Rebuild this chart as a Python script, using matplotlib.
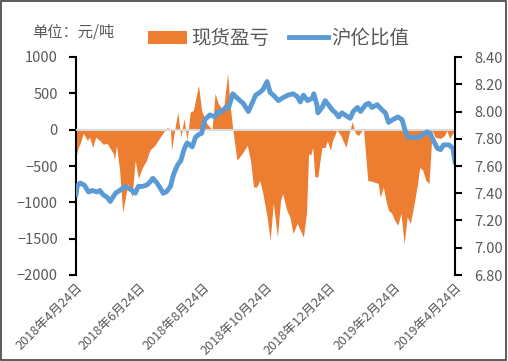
import datetime as dt

import matplotlib
matplotlib.use("Agg")
import matplotlib.pyplot as plt
from matplotlib.patches import Patch, Rectangle
from matplotlib.lines import Line2D

plt.rcParams["font.family"] = ["Noto Sans CJK SC", "DejaVu Sans"]

START = dt.date(2018, 4, 24)

# 现货盈亏 (元/吨): days since 2018-04-24, value
profit_days = [0, 2, 4, 7, 11, 13, 16, 19, 23, 26, 30, 36, 37, 39, 42, 45, 50, 54, 57, 60, 64,
               68, 71, 76, 81, 86, 88, 91, 92, 95, 98, 101, 104, 107, 110, 113, 118, 121, 126,
               131, 134, 137, 142, 146, 148, 151, 155, 160, 165, 168, 171, 174, 177, 180, 184,
               187, 190, 194, 197, 199, 203, 206, 209, 213, 216, 219, 222, 224, 226, 228, 230,
               233, 235, 237, 240, 242, 245, 247, 250, 251, 255, 260, 263, 266, 269, 272, 276,
               277, 281, 285, 291, 293, 296, 299, 301, 304, 307, 310, 313, 316, 319, 322, 325,
               329, 331, 334, 337, 340, 343, 346, 351, 355, 357, 360, 363, 365]
profit = [-380, -250, -190, -50, -150, -100, -245, -105, -150, -200, -190, -330, -420, -215,
          -560, -1140, -740, -930, -420, -670, -520, -420, -285, -215, -105, 0, 30, 0, -285, 0,
          240, -105, 150, -150, 240, 265, 610, 265, 85, 0, 500, 360, 265, 775, 400, 0, -420,
          -330, -215, -420, -790, -790, -700, -880, -1200, -1520, -1010, -1480, -970, -880,
          -1110, -1200, -1430, -1290, -1385, -1480, -1150, -330, -350, -245, -650, -650, -420,
          -245, -245, -150, -285, -150, -50, 0, -80, -245, -50, 110, -50, -80, 0, -10, -700,
          -710, -740, -930, -790, -1010, -1110, -1150, -1250, -1315, -1150, -1570, -1200,
          -1290, -1070, -740, -520, -560, -700, -740, -10, -105, -120, -80, -10, -120, -40, -105]

# 沪伦比值
ratio_days = [0, 1, 4, 8, 12, 16, 20, 23, 26, 30, 33, 38, 42, 47, 50, 54, 57, 60, 64, 68, 71,
              74, 78, 81, 84, 87, 91, 94, 98, 101, 104, 107, 112, 115, 118, 121, 124, 129, 134,
              137, 141, 144, 147, 151, 155, 158, 161, 166, 169, 173, 177, 180, 184, 187, 190,
              195, 199, 204, 209, 213, 216, 219, 223, 228, 229, 232, 233, 237, 240, 243, 247,
              250, 253, 256, 259, 264, 267, 271, 274, 279, 282, 285, 290, 295, 298, 301, 305,
              310, 314, 317, 320, 325, 330, 334, 338, 341, 344, 348, 351, 354, 359, 363, 365]
ratio = [7.39, 7.45, 7.475, 7.46, 7.41, 7.42, 7.41, 7.42, 7.39, 7.37, 7.34, 7.40, 7.42, 7.45,
         7.44, 7.42, 7.40, 7.45, 7.45, 7.46, 7.48, 7.51, 7.475, 7.44, 7.40, 7.41, 7.45, 7.54,
         7.61, 7.64, 7.72, 7.77, 7.74, 7.81, 7.83, 7.84, 7.94, 7.975, 7.96, 8.00, 8.00, 8.03,
         8.03, 8.13, 8.10, 8.08, 8.06, 8.00, 8.05, 8.12, 8.14, 8.16, 8.22, 8.14, 8.12, 8.08,
         8.10, 8.12, 8.13, 8.11, 8.07, 8.12, 8.08, 8.10, 8.13, 8.05, 7.99, 8.03, 8.08, 8.05,
         8.01, 7.99, 7.96, 7.99, 7.975, 7.95, 8.00, 8.03, 8.00, 8.05, 8.06, 8.03, 8.05, 8.01,
         7.99, 7.92, 7.94, 7.96, 7.94, 7.86, 7.81, 7.81, 7.81, 7.83, 7.85, 7.84, 7.79, 7.73,
         7.72, 7.755, 7.755, 7.73, 7.63]

tick_dates = [dt.date(2018, 4, 24), dt.date(2018, 6, 24), dt.date(2018, 8, 24),
              dt.date(2018, 10, 24), dt.date(2018, 12, 24), dt.date(2019, 2, 24),
              dt.date(2019, 4, 24)]

ORANGE = "#ED7D31"
BLUE = "#5B9BD5"
GREY = "#595959"

profit_x = [START + dt.timedelta(days=d) for d in profit_days]
ratio_x = [START + dt.timedelta(days=d) for d in ratio_days]

fig = plt.figure(figsize=(5.08, 3.61), dpi=100)
ax = fig.add_axes([76 / 508, 86 / 361, 379 / 508, 218 / 361])
ax2 = ax.twinx()

ax.fill_between(profit_x, profit, 0, color=ORANGE, linewidth=0, zorder=2)
ax.axhline(0, color="#D9D9D9", linewidth=1.5, zorder=3)
ax2.plot(ratio_x, ratio, color=BLUE, linewidth=3.5, solid_joinstyle="round")

ax.set_xlim(START, START + dt.timedelta(days=365))
ax.set_ylim(-2000, 1000)
ax.set_yticks(range(-2000, 1001, 500))
ax2.set_ylim(6.8, 8.4)
ax2.set_yticks([6.8 + 0.2 * i for i in range(9)])
ax2.yaxis.set_major_formatter(matplotlib.ticker.FormatStrFormatter("%.2f"))

ax.set_xticks(tick_dates)
ax.set_xticklabels(["{}年{}月{}日".format(d.year, d.month, d.day) for d in tick_dates],
                   rotation=45, ha="right", va="top", rotation_mode="anchor")

for a in (ax, ax2):
    for s in ("top", "bottom"):
        a.spines[s].set_visible(False)
    a.spines["left"].set_visible(a is ax)
    a.spines["right"].set_visible(a is ax2)
    a.spines["left"].set_linewidth(1.5)
    a.spines["right"].set_linewidth(1.5)
ax.tick_params(axis="y", direction="out", length=5, width=1.5, pad=8, labelsize=10.5, labelcolor=GREY)
ax2.tick_params(axis="y", direction="out", length=5, width=1.5, pad=9, labelsize=10.5, labelcolor=GREY)
ax.tick_params(axis="x", length=0, pad=4, labelsize=9.2, labelcolor=GREY)

handles = [Patch(facecolor=ORANGE, edgecolor="none"),
           Line2D([], [], color=BLUE, linewidth=3.5)]
fig.legend(handles, ["现货盈亏", "沪伦比值"], loc="center", ncol=2,
           bbox_to_anchor=(0.549, 0.893), frameon=False, fontsize=14,
           handlelength=2.0, handletextpad=0.2, columnspacing=1.0, labelcolor=GREY)
fig.text(32 / 508, 1 - 32 / 361, "单位：元/吨", fontsize=11, color=GREY, va="center")

fig.add_artist(Rectangle((0.002, 0.003), 0.995, 0.994, transform=fig.transFigure,
                         fill=False, edgecolor="#404040", linewidth=1.2))

fig.savefig("out.png", dpi=100)
